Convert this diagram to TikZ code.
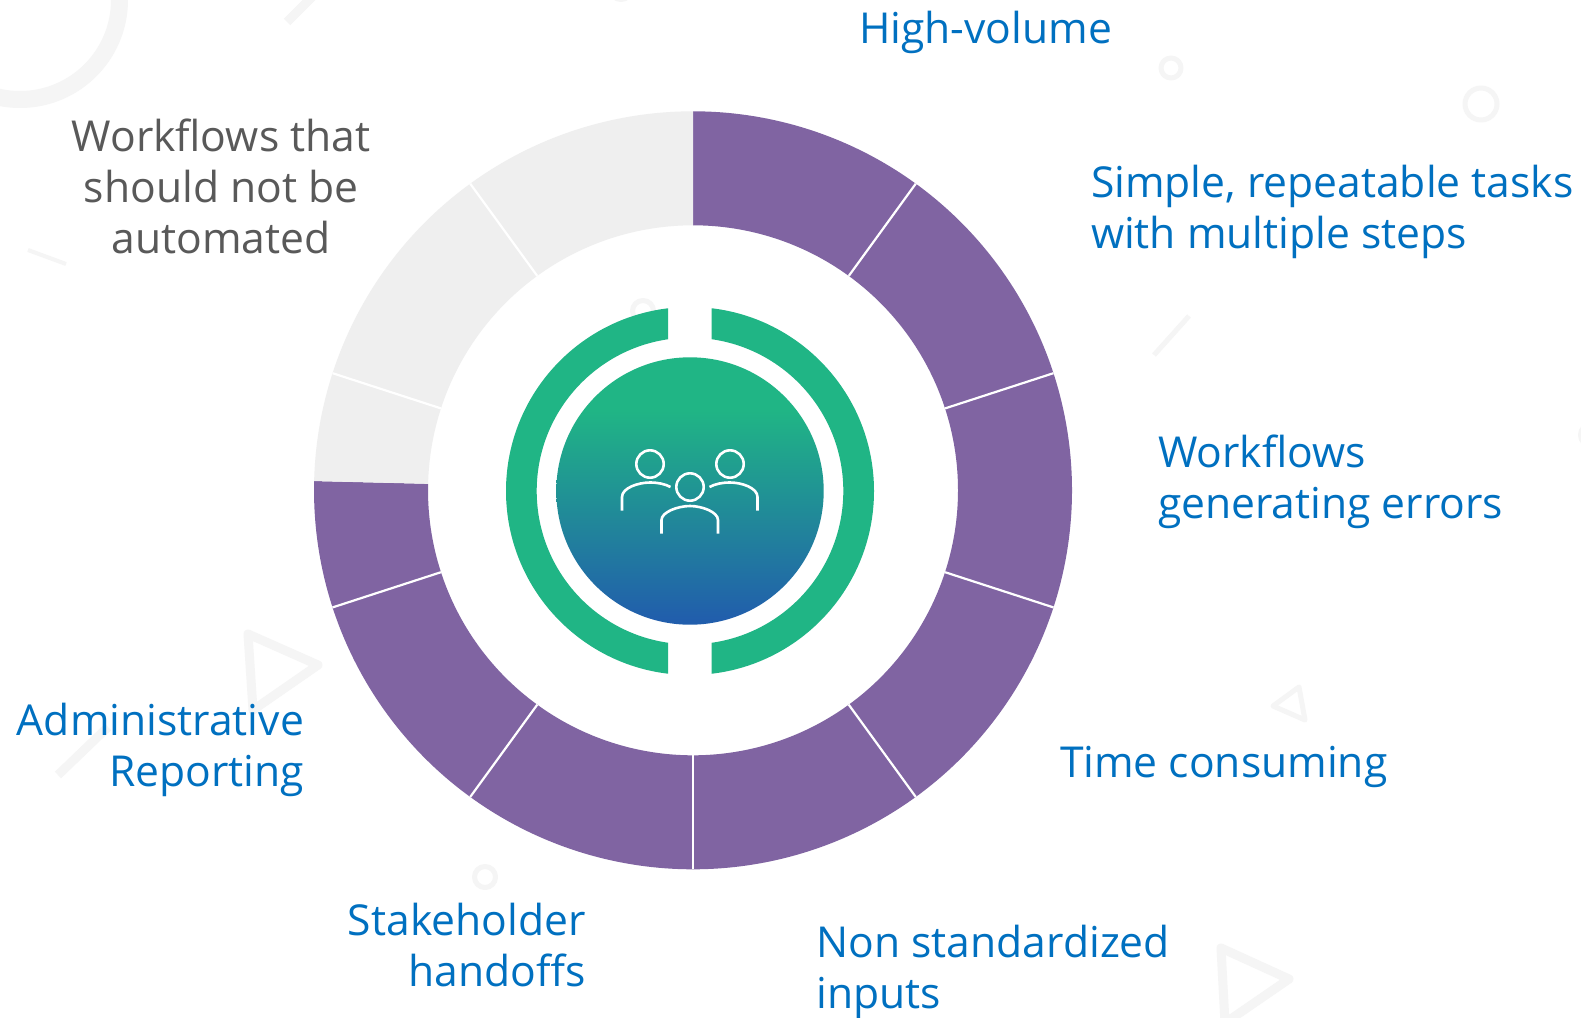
\documentclass[tikz,border=0pt]{standalone}
\usepackage{fontspec}
\setmainfont{Open Sans}
\usetikzlibrary{calc}
\definecolor{bluetext}{HTML}{0070C0}
\definecolor{graytext}{HTML}{595959}
\definecolor{purp}{HTML}{8064A2}
\definecolor{lightseg}{HTML}{EFEFEF}
\definecolor{faint}{HTML}{F5F5F5}
\definecolor{grn}{HTML}{20B585}
\definecolor{blu}{HTML}{215EAC}
\pgfdeclareverticalshading{hubshade}{100bp}{color(0bp)=(blu);color(26bp)=(blu);color(65bp)=(grn);color(100bp)=(grn)}
\tikzset{
  lbl/.style={font=\fontsize{42.6}{51.3}\selectfont,text=bluetext,inner sep=0pt,outer sep=0pt},
  faintline/.style={draw=faint,line cap=butt,line join=round},
  seg/.style={draw=white,line width=2.2pt},
  icon/.style={draw=white,line width=2.6pt,fill=none},
}
\newcommand{\segment}[3]{\fill[#1] ([shift={(#2:379)}]693,490.3) arc[start angle=#2,end angle=#3,radius=379] -- ([shift={(#3:265)}]693,490.3) arc[start angle=#3,end angle=#2,radius=265] -- cycle;}
\begin{document}
\begin{tikzpicture}[x=1pt,y=-1pt]
\useasboundingbox[fill=white] (0,0) rectangle (1581,1017);
% faint background
\begin{scope}
\clip (0,0) rectangle (1581,1017);
\draw[faintline,line width=17pt] (20,0) circle[radius=99.5];
\draw[faintline,line width=9pt] (287,22) -- (317,-8);
\draw[faintline,line width=4pt] (28,250) -- (66,264);
\draw[faintline,line width=5pt] (1171,68) circle[radius=10];
\draw[faintline,line width=5pt] (1481,104) circle[radius=16];
\draw[faintline,line width=5pt] (1189,316) -- (1154,355);
\draw[faintline,line width=5pt] (1299,687) -- (1305,720) -- (1273,706) -- cycle;
\draw[faintline,line width=5pt] (485,877) circle[radius=10.5];
\draw[faintline,line width=9pt] (248,634) -- (318,665) -- (253,710) -- cycle;
\draw[faintline,line width=9pt] (108,727) -- (58,775);
\draw[faintline,line width=9pt] (1221,948) -- (1289,979) -- (1225,1023) -- cycle;
\draw[faintline,line width=5pt] (643,311) circle[radius=10.5];
\draw[faintline,line width=5pt] (621,-11) circle[radius=10.5];
\draw[faintline,line width=5pt] (1591,435) circle[radius=10.5];
\end{scope}
% outer ring
\foreach \a/\b/\c in {-90/-54/purp,-54/-18/purp,-18/18/purp,18/54/purp,54/90/purp,90/126/purp,126/162/purp,162/181.4/purp,181.4/198/lightseg,198/234/lightseg,234/270/lightseg}{
  \segment{\c}{\a}{\b}
}
\foreach \a in {-54,-18,18,54,90,126,162,198,234}{
  \draw[seg] ([shift={(\a:265)}]693,490.3) -- ([shift={(\a:379)}]693,490.3);
}
% green ring
\begin{scope}
\clip (711.7,280) rectangle (900,700);
\fill[grn,even odd rule] (690,491) circle[radius=184] (690,491) circle[radius=153.3];
\end{scope}
\begin{scope}
\clip (480,280) rectangle (668,700);
\fill[grn,even odd rule] (690,491) circle[radius=184] (690,491) circle[radius=153.3];
\end{scope}
\shade[shading=hubshade] (690,491) circle[radius=133.7];
% icon
\draw[icon] (650,464) circle[radius=13.7];
\draw[icon] (730,464) circle[radius=13.7];
\draw[icon] (690,487) circle[radius=13.7];
\draw[icon] (622,510.5) -- (622,497) .. controls (622,488) and (638,482.5) .. (650,482.5) .. controls (658,482.5) and (665,484) .. (670.5,487);
\draw[icon] (757.5,510.5) -- (757.5,497) .. controls (757.5,488) and (742,482.5) .. (730,482.5) .. controls (722,482.5) and (715,484) .. (709.5,487);
\draw[icon] (661.5,533.5) -- (661.5,520) .. controls (661.5,512) and (678,506) .. (690,506) .. controls (702,506) and (718,512) .. (718,520) -- (718,533.5);
% labels
\node[lbl,anchor=base west] (n1) at (859,43) {High-volume};
\node[lbl,anchor=base west,align=left] (n2) at (1091,248.7) {Simple, repeatable tasks\\with multiple steps};
\node[lbl,anchor=base west,align=left] (n3) at (1158,518.7) {Workflows\\generating errors};
\node[lbl,anchor=base west] (n4) at (1060,777) {Time consuming};
\node[lbl,anchor=base west,align=left] (n5) at (816.5,1008.3) {Non standardized\\inputs};
\node[lbl,anchor=base east,align=right] (n6) at (585.5,986.3) {Stakeholder\\handoffs};
\node[lbl,anchor=base east,align=right] (n7) at (304,786.3) {Administrative\\Reporting};
\node[lbl,text=graytext,anchor=base,align=center] (n8) at (221,253.7) {Workflows that\\should not be\\automated};
\end{tikzpicture}
\end{document}
